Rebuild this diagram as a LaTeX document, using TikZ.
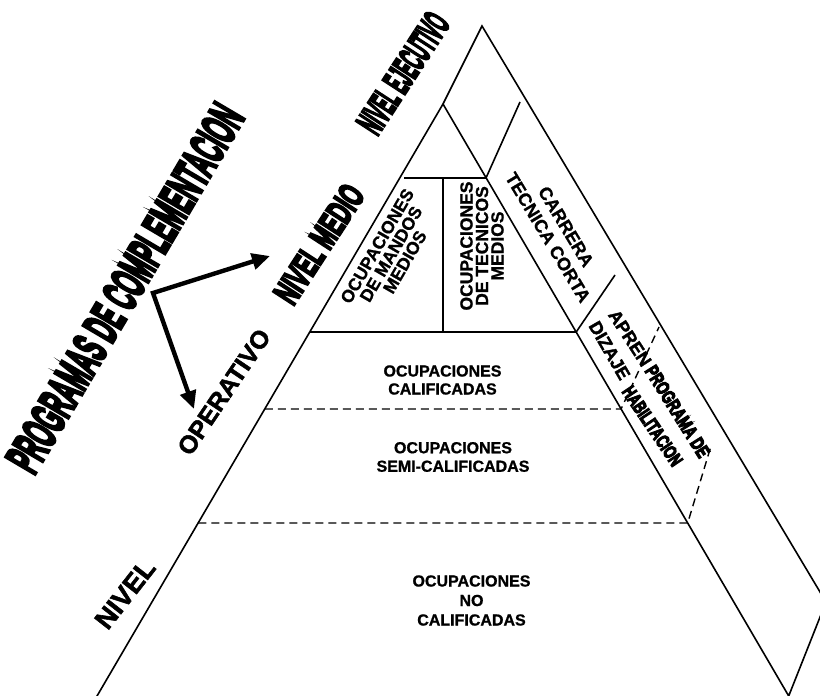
\documentclass[tikz,border=0pt]{standalone}
\usepackage{fontspec}
\setmainfont{Liberation Sans}
\newfontfamily\heavyfont[BoldFeatures={FakeBold=7}]{Liberation Sans}
\newfontfamily\semiheavyfont[BoldFeatures={FakeBold=2}]{Liberation Sans}
\newfontfamily\labelfont[BoldFeatures={FakeBold=1}]{Liberation Sans}
\usetikzlibrary{arrows.meta}
\begin{document}
\begin{tikzpicture}[x=1pt,y=-1pt,
  edge/.style={line width=1.6pt, line cap=butt},
  dashline/.style={line width=1.4pt, dash pattern=on 8pt off 5pt},
  lbl/.style={font=\bfseries, inner sep=0pt, align=center},
  bigarrow/.style={line width=4.4pt, line join=miter,
     {Triangle[length=18pt,width=16pt]}-{Triangle[length=18pt,width=16pt]}}]
\useasboundingbox (0,0) rectangle (820,696);
\begin{scope}
\clip (0,0) rectangle (820,696);
% key points
\coordinate (A) at (482,26);
\coordinate (B) at (443,104);
\coordinate (BL) at (83,720);
\coordinate (IR) at (788.7,696);
\coordinate (OR) at (826,602);
% outline
\draw[edge, line join=miter] (BL) -- (B) -- (A) -- (OR) -- (IR) -- (B);
% band dividers
\coordinate (d1a) at (520,102); \coordinate (d1b) at (486,178);
\coordinate (d2a) at (615,275); \coordinate (d2b) at (576.2,332);
\draw[edge] (d1a) -- (d1b);
\draw[edge] (d2a) -- (d2b);
% middle boxes
\coordinate (h1a) at (404,178);
\coordinate (h2a) at (309.8,332);
\coordinate (va) at (443,178); \coordinate (vb) at (443,332);
\draw[edge] (h1a) -- (d1b);
\draw[edge] (h2a) -- (d2b);
\draw[edge] (va) -- (vb);
% dashed levels
\coordinate (l1a) at (264.9,409); \coordinate (l1b) at (621.1,409); \coordinate (l1c) at (659,327);
\coordinate (l2a) at (198.3,523); \coordinate (l2b) at (687.7,523); \coordinate (l2c) at (711,446);
\draw[dashline] (l1a) -- (l1b) -- (l1c);
\draw[dashline] (l2a) -- (l2b) -- (l2c);
\end{scope}
% arrows
\coordinate (atail) at (153,293);
\coordinate (amed) at (270,256);
\coordinate (aop) at (194,409);
\draw[bigarrow] (amed) -- (atail) -- (aop);
% outer labels
\node[lbl, rotate=59.5] (prog) at (125,288) {\scalebox{0.452}[1]{\heavyfont\bfseries\fontsize{49}{49}\selectfont PROGRAMAS DE COMPLEMENTACION}};
\node[lbl, rotate=57] (ejec) at (403,73) {\scalebox{0.40}[1]{\heavyfont\bfseries\fontsize{38}{38}\selectfont NIVEL EJECUTIVO}};
\node[lbl, rotate=57] (medio) at (319,244) {\scalebox{0.57}[1]{\heavyfont\bfseries\fontsize{36}{36}\selectfont NIVEL MEDIO}};
\node[lbl, rotate=56, font=\semiheavyfont\bfseries\fontsize{25}{25}\selectfont] (oper) at (224,392) {OPERATIVO};
\node[lbl, rotate=52, font=\semiheavyfont\bfseries\fontsize{27}{27}\selectfont] (nivel) at (125,594) {NIVEL};
% inner labels
\node[lbl, rotate=60, font=\labelfont\bfseries\fontsize{17.5}{16}\selectfont] (mandos) at (391,254) {OCUPACIONES\\DE MANDOS\\MEDIOS};
\node[lbl, rotate=90, font=\labelfont\bfseries\fontsize{17.5}{15.5}\selectfont] (tecnicos) at (482,246) {OCUPACIONES\\DE TECNICOS\\MEDIOS};
\node[lbl, rotate=-59, font=\labelfont\bfseries\fontsize{18}{21}\selectfont] (carrera) at (557,232) {CARRERA\\TECNICA CORTA};
\node[lbl, rotate=-57, font=\semiheavyfont\bfseries\fontsize{18}{18}\selectfont] (apren) at (630,338) {APREN};
\node[lbl, rotate=-60, font=\semiheavyfont\bfseries\fontsize{18}{18}\selectfont] (dizaje) at (609.5,350.5) {DIZAJE};
\node[lbl, rotate=-58] (programa) at (677.5,411.5) {\scalebox{0.72}[1]{\heavyfont\bfseries\fontsize{19}{19}\selectfont PROGRAMA DE}};
\node[lbl, rotate=-56] (habil) at (652.5,426) {\scalebox{0.68}[1]{\heavyfont\bfseries\fontsize{19}{19}\selectfont HABILITACION}};
\node[lbl, font=\labelfont\bfseries\fontsize{16}{18}\selectfont] (calif) at (442.5,380) {OCUPACIONES\\CALIFICADAS};
\node[lbl, font=\labelfont\bfseries\fontsize{16}{18.5}\selectfont] (semi) at (453,457) {OCUPACIONES\\SEMI-CALIFICADAS};
\node[lbl, font=\labelfont\bfseries\fontsize{16}{19.5}\selectfont] (nocal) at (471.5,600.5) {OCUPACIONES\\NO\\CALIFICADAS};
\end{tikzpicture}
\end{document}
